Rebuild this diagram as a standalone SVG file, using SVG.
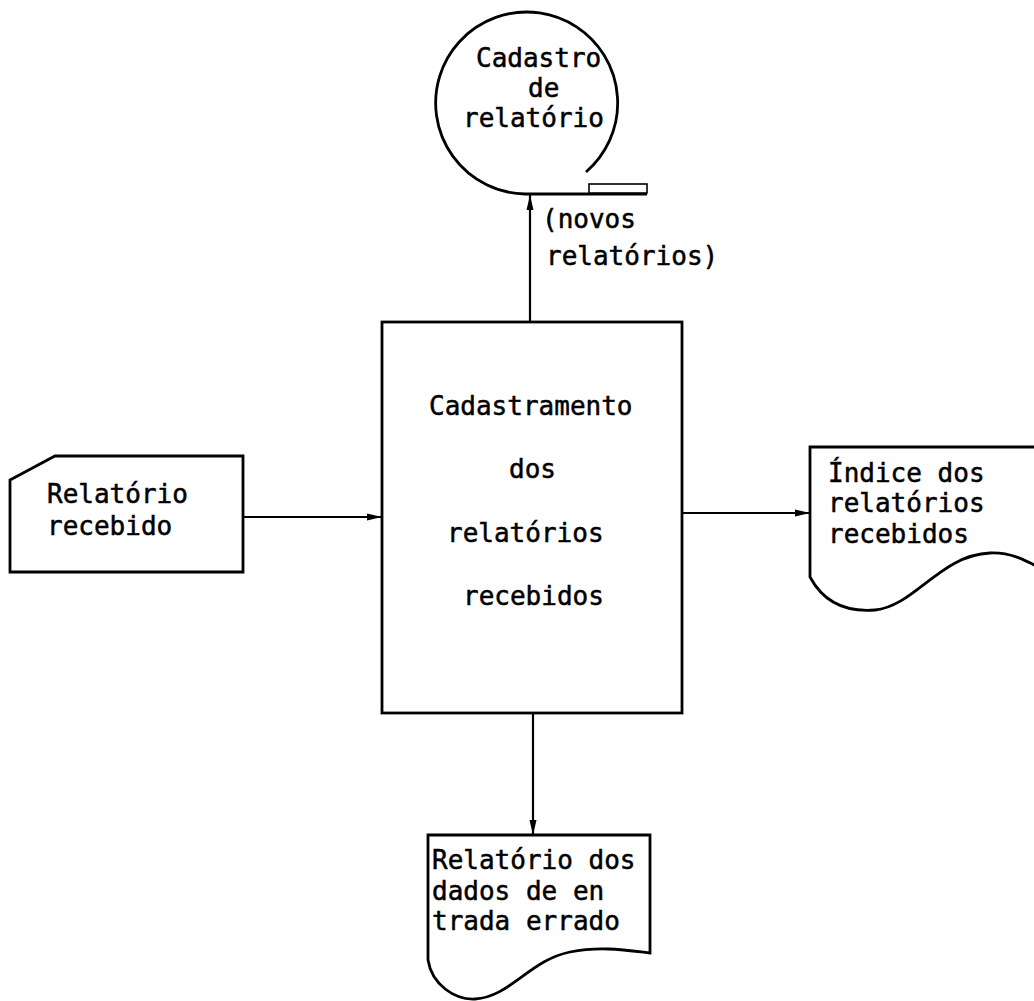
<svg xmlns="http://www.w3.org/2000/svg" width="1034" height="1001" viewBox="0 0 1034 1001">
<defs>
<style>
.s{fill:none;stroke:#000;stroke-width:2.8;stroke-linejoin:miter}
.f{fill:#fff;stroke:#000;stroke-width:2.8}
.t{font-family:"DejaVu Sans Mono","Liberation Mono",monospace;font-size:26px;fill:#000;stroke:#000;stroke-width:0.5}
.c{fill:none;stroke:#000;stroke-width:2.2}
</style>
<marker id="ah" markerUnits="userSpaceOnUse" markerWidth="16" markerHeight="10" refX="15" refY="5" orient="auto">
<path d="M0 1.5 L15 5 L0 8.5 Z" fill="#000"/>
</marker>
</defs>
<rect width="1034" height="1001" fill="#fff"/>
<g id="connectors">
<line class="c" x1="530" y1="322" x2="530" y2="195" marker-end="url(#ah)"/>
<line class="c" x1="243" y1="517" x2="382" y2="517" marker-end="url(#ah)"/>
<line class="c" x1="682" y1="513" x2="810" y2="513" marker-end="url(#ah)"/>
<line class="c" x1="533" y1="713" x2="533" y2="835" marker-end="url(#ah)"/>
<text class="t" x="542" y="228">(novos</text>
<text class="t" x="546" y="265">relatórios)</text>
</g>
<g id="cadastro-relatorio">
<path class="s" d="M586 172 A91 91 0 1 0 525 194 L647 194"/>
<rect x="589" y="184" width="58" height="9" fill="#fff" stroke="#000" stroke-width="1.6"/>
<text class="t" x="476" y="67">Cadastro</text>
<text class="t" x="528" y="97">de</text>
<text class="t" x="463" y="127">relatório</text>
</g>
<g id="cadastramento">
<rect class="f" x="382" y="322" width="300" height="391"/>
<text class="t" x="429" y="415">Cadastramento</text>
<text class="t" x="509" y="478">dos</text>
<text class="t" x="447" y="542">relatórios</text>
<text class="t" x="463" y="605">recebidos</text>
</g>
<g id="relatorio-recebido">
<path class="f" d="M10 480 L55 456 L243 456 L243 572 L10 572 Z"/>
<text class="t" x="47" y="503">Relatório</text>
<text class="t" x="47" y="535">recebido</text>
</g>
<g id="indice">
<path class="s" d="M1040 447 L810 447 L810 577 C825 605 850 612 875 610 C915 606 940 555 990 553 C1010 552 1025 560 1040 568"/>
<text class="t" x="828" y="482">Índice dos</text>
<text class="t" x="828" y="512">relatórios</text>
<text class="t" x="828" y="543">recebidos</text>
</g>
<g id="relatorio-erros">
<path class="s" d="M428 960 L428 835 L650 835 L650 953 C625 950 600 946 570 952 C530 960 510 997 475 999 C455 1000 432 985 428 960 Z"/>
<text class="t" x="432" y="869">Relatório dos</text>
<text class="t" x="432" y="900">dados de en</text>
<text class="t" x="432" y="930">trada errado</text>
</g>
</svg>
